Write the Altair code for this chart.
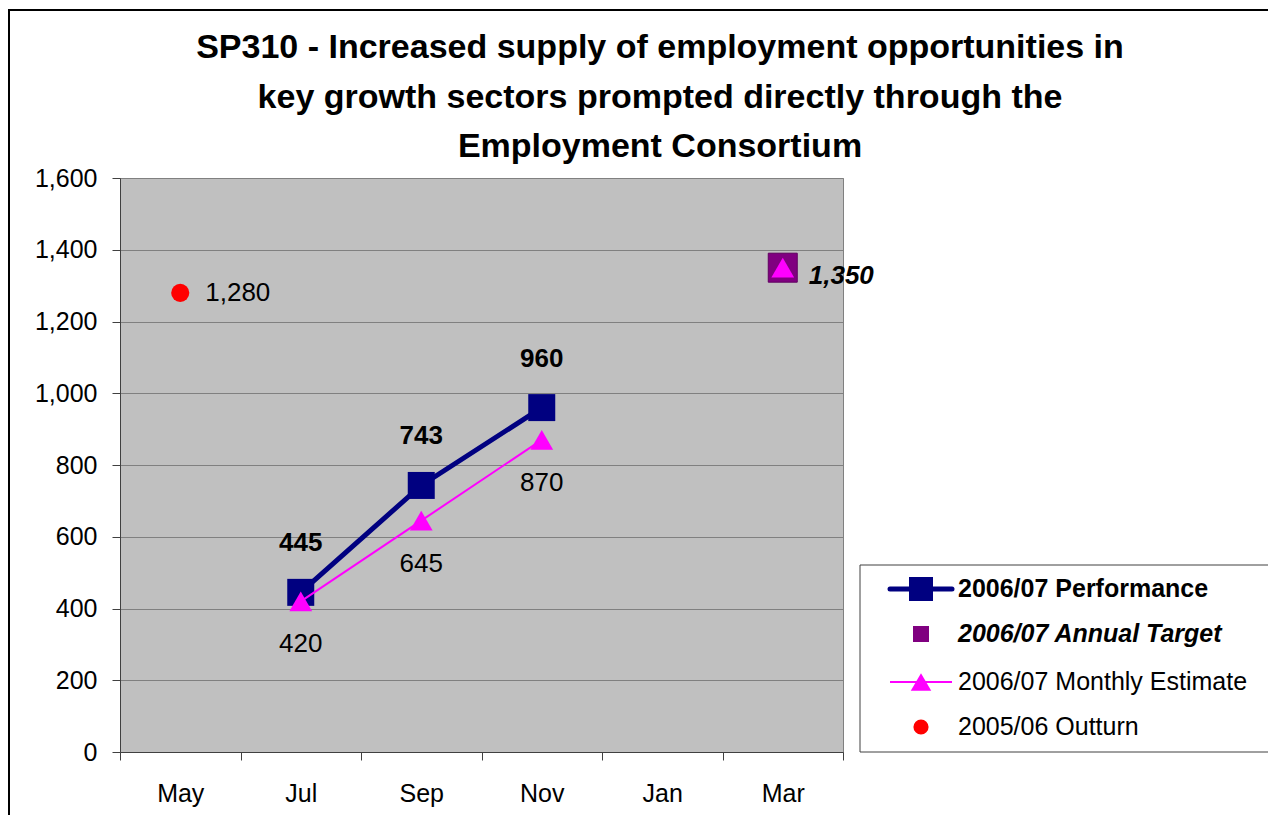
import altair as alt
import pandas as pd

# ---------------- data ----------------
months = ["May", "Jul", "Sep", "Nov", "Jan", "Mar"]
perf_months = ["Jul", "Sep", "Nov"]
perf_values = [445, 743, 960]
est_months = ["Jul", "Sep", "Nov", "Mar"]
est_values = [420, 645, 870, 1350]
target_months = ["Mar"]
target_values = [1350]
outturn_months = ["May"]
outturn_values = [1280]
series_names = ["2006/07 Performance", "2006/07 Annual Target",
                "2006/07 Monthly Estimate", "2005/06 Outturn"]
title_lines = ["SP310 - Increased supply of employment opportunities in",
               "key growth sectors prompted directly through the",
               "Employment Consortium"]
y_ticks = [0, 200, 400, 600, 800, 1000, 1200, 1400, 1600]

FONT = "Liberation Sans"
NAVY = "#000080"
PURPLE = "#800080"
MAGENTA = "#FF00FF"
RED = "#FF0000"

perf = pd.DataFrame({"month": perf_months, "value": perf_values})
est = pd.DataFrame({"month": est_months, "value": est_values})
target = pd.DataFrame({"month": target_months, "value": target_values})
outturn = pd.DataFrame({"month": outturn_months, "value": outturn_values})

x_enc = alt.X("month:N",
              scale=alt.Scale(type="band", domain=months, paddingInner=0, paddingOuter=0),
              axis=alt.Axis(title=None, tickBand="extent", labelAngle=0, labelFontSize=25,
                            labelFont=FONT, labelColor="black", labelPadding=21, tickSize=8,
                            tickColor="#404040", domainColor="#404040", grid=False))
y_enc = alt.Y("value:Q",
              scale=alt.Scale(domain=[0, 1600], nice=False, zero=True),
              axis=alt.Axis(title=None, values=y_ticks, format=",d", labelFontSize=25,
                            labelFont=FONT, labelColor="black", labelPadding=15, tickSize=8,
                            tickColor="#404040", domainColor="#404040", grid=True,
                            gridColor="#808080", gridWidth=1))

one = pd.DataFrame({"k": [0]})

# outer frame
frame = alt.Chart(one).mark_rect(fill=None, stroke="black", strokeWidth=2).encode(
    x=alt.value(-111), x2=alt.value(1300), y=alt.value(-168), y2=alt.value(800))

# title
title = alt.Chart(one).mark_text(font=FONT, fontSize=34, fontWeight="bold", align="center",
                                 baseline="alphabetic", lineHeight=49.5, color="black").encode(
    x=alt.value(540), y=alt.value(-120), text=alt.value(title_lines))

perf_line = alt.Chart(perf).mark_line(color=NAVY, strokeWidth=5).encode(x=x_enc, y=y_enc)
perf_pts = alt.Chart(perf).mark_point(shape="square", filled=True, color=NAVY, size=729,
                                      opacity=1).encode(x=x_enc, y=y_enc)
perf_lbl = alt.Chart(perf).mark_text(font=FONT, fontSize=26, fontWeight="bold", dy=-49,
                                     color="black").encode(x=x_enc, y=y_enc,
                                                           text=alt.Text("value:Q", format=",d"))

target_pts = alt.Chart(target).mark_point(shape="square", filled=True, color=PURPLE, size=841,
                                          opacity=1, stroke="#600060",
                                          strokeWidth=1).encode(x=x_enc, y=y_enc)
target_lbl = alt.Chart(target).mark_text(font=FONT, fontSize=26, fontWeight="bold",
                                         fontStyle="italic", align="left", dx=26, dy=8,
                                         color="black").encode(
    x=x_enc, y=y_enc, text=alt.Text("value:Q", format=",d"))

est_line = alt.Chart(est).transform_filter(alt.datum.month != "Mar").mark_line(
    color=MAGENTA, strokeWidth=2).encode(x=x_enc, y=y_enc)
est_pts = alt.Chart(est).mark_point(shape="triangle-up", filled=True, color=MAGENTA, size=520,
                                    opacity=1).encode(x=x_enc, y=y_enc)
est_lbl = alt.Chart(est).transform_filter(alt.datum.month != "Mar").mark_text(
    font=FONT, fontSize=26, dy=43, color="black").encode(
    x=x_enc, y=y_enc, text=alt.Text("value:Q", format=",d"))

out_pts = alt.Chart(outturn).mark_point(shape="circle", filled=True, color=RED, size=330,
                                        opacity=1).encode(x=x_enc, y=y_enc)
out_lbl = alt.Chart(outturn).mark_text(font=FONT, fontSize=26, align="left", dx=25,
                                       color="black").encode(
    x=x_enc, y=y_enc, text=alt.Text("value:Q", format=",d"))

# ---------------- legend ----------------
LX_BOX, LX_LINE0, LX_LINE1, LX_SYM, LX_TXT = 740, 770, 832, 801, 838
ROWS = [411, 456, 504, 549]

leg_box = alt.Chart(one).mark_rect(fill="white", stroke="#404040", strokeWidth=1).encode(
    x=alt.value(LX_BOX), x2=alt.value(1200), y=alt.value(387), y2=alt.value(574))
leg_line1 = alt.Chart(one).mark_rule(color=NAVY, strokeWidth=5, strokeCap="round").encode(
    x=alt.value(LX_LINE0), x2=alt.value(LX_LINE1), y=alt.value(ROWS[0]))
leg_sym1 = alt.Chart(one).mark_point(shape="square", filled=True, color=NAVY, size=576,
                                     opacity=1).encode(x=alt.value(LX_SYM), y=alt.value(ROWS[0]))
leg_sym2 = alt.Chart(one).mark_point(shape="square", filled=True, color=PURPLE, size=256,
                                     opacity=1).encode(x=alt.value(LX_SYM), y=alt.value(ROWS[1]))
leg_line3 = alt.Chart(one).mark_rule(color=MAGENTA, strokeWidth=2).encode(
    x=alt.value(LX_LINE0), x2=alt.value(LX_LINE1), y=alt.value(ROWS[2]))
leg_sym3 = alt.Chart(one).mark_point(shape="triangle-up", filled=True, color=MAGENTA, size=420,
                                     opacity=1).encode(x=alt.value(LX_SYM), y=alt.value(ROWS[2]))
leg_sym4 = alt.Chart(one).mark_point(shape="circle", filled=True, color=RED, size=230,
                                     opacity=1).encode(x=alt.value(LX_SYM), y=alt.value(ROWS[3]))

legend_styles = [("bold", "normal"), ("bold", "italic"), ("normal", "normal"), ("normal", "normal")]
leg_texts = []
for name, row, (fw, fs) in zip(series_names, ROWS, legend_styles):
    leg_texts.append(
        alt.Chart(pd.DataFrame({"label": [name]})).mark_text(
            font=FONT, fontSize=25, fontWeight=fw, fontStyle=fs, align="left",
            baseline="middle", color="black").encode(
            x=alt.value(LX_TXT), y=alt.value(row), text="label:N"))

chart = alt.layer(
    frame, title,
    perf_line, perf_pts, target_pts, est_line, est_pts, out_pts,
    perf_lbl, target_lbl, est_lbl, out_lbl,
    leg_box, leg_line1, leg_sym1, leg_sym2, leg_line3, leg_sym3, leg_sym4, *leg_texts
).properties(
    width=723, height=574,
    autosize=alt.AutoSizeParams(type="none"),
    padding={"left": 112, "top": 170, "right": 425, "bottom": 63},
    background="white"
).configure_view(
    fill="#C0C0C0", stroke="#808080", strokeWidth=1
)

chart.save("out.html", embed_options={"renderer": "svg", "actions": False})
